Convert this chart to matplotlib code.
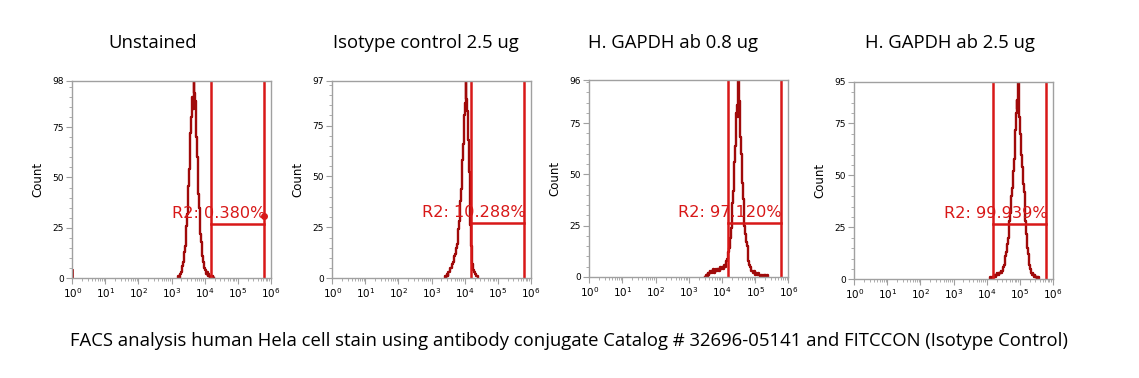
import numpy as np
import matplotlib.pyplot as plt
from matplotlib.ticker import FixedLocator, LogLocator, NullFormatter

# panel titles
titles = ["Unstained", "Isotype control 2.5 ug", "H. GAPDH ab 0.8 ug", "H. GAPDH ab 2.5 ug"]
gate_labels = ["R2: 0.380%", "R2: 10.288%", "R2: 97.120%", "R2: 99.939%"]
y_max = [98, 97, 96, 95]

# gate R2 (log10 of FL1) and height of the marker bar
gate_lo = [4.19, 4.19, 4.17, 4.18]
gate_hi = [5.80, 5.80, 5.77, 5.80]
gate_y = [27, 27, 26.5, 26.5]

# histogram data: first channel (log10), step 0.02 between channels
step = 0.02
unstained_start = 3.20
unstained = [0, 1, 0, 2, 2, 3, 4, 6, 8, 10, 13, 16, 20, 26, 32, 38, 46, 54, 62, 72,
             80, 86, 90, 84, 98, 92, 88, 80, 70, 60, 51, 42, 35, 28, 22, 18, 14, 11, 8, 6,
             5, 4, 3, 2, 3, 1, 2, 1, 0, 1, 1, 0, 0, 1, 0]
unstained_edge = 4  # events piled up in the first channel (10^0)

isotype_start = 3.40
isotype = [0, 1, 0, 1, 2, 1, 3, 3, 4, 5, 5, 6, 7, 8, 10, 11, 12, 14, 15, 17,
           20, 24, 28, 33, 38, 44, 50, 58, 66, 74, 80, 86, 97, 88, 82, 78, 68, 52, 38, 26,
           16, 10, 7, 5, 4, 3, 3, 2, 1, 1, 1, 0]

gapdh08_start = 3.50
gapdh08 = [0, 1, 1, 0, 2, 1, 2, 3, 2, 3, 2, 3, 4, 3, 2, 3, 4, 3, 4, 3,
           4, 3, 4, 5, 4, 4, 5, 4, 5, 6, 5, 6, 8, 9, 10, 12, 14, 16, 19, 24,
           30, 36, 42, 48, 56, 64, 72, 80, 84, 78, 96, 86, 76, 68, 60, 52, 46, 38, 30, 25,
           21, 18, 17, 15, 11, 8, 7, 6, 5, 4, 3, 3, 2, 2, 3, 2, 1, 2, 1, 1,
           2, 1, 1, 0, 1, 1, 0, 1, 0, 1, 0, 1, 0, 0, 1, 0]

gapdh25_start = 4.10
gapdh25 = [0, 1, 0, 1, 0, 1, 2, 1, 2, 1, 2, 3, 2, 3, 2, 3, 3, 4, 3, 4,
           5, 6, 7, 9, 11, 13, 15, 17, 20, 24, 28, 32, 36, 40, 44, 48, 52, 58, 64, 72,
           80, 86, 82, 95, 88, 78, 70, 66, 60, 54, 50, 46, 42, 34, 28, 22, 18, 15, 12, 9,
           7, 5, 4, 3, 2, 3, 2, 1, 2, 1, 1, 0, 1, 0, 1, 0]

starts = [unstained_start, isotype_start, gapdh08_start, gapdh25_start]
series = [unstained, isotype, gapdh08, gapdh25]

# axes boxes in pixels: left, top, right, bottom
boxes = [(72.3, 80.7, 270.7, 278.3), (332.3, 80.7, 530.7, 278.3),
         (589.3, 80.0, 788.3, 277.0), (854.3, 81.7, 1052.7, 279.3)]
title_x = [152.5, 426, 673, 949.5]

W, H = 1139, 378
fig = plt.figure(figsize=(W / 100, H / 100), dpi=100)

hist_col = "#a00a0a"
gate_col = "#d81818"
grey = "#a0a0a0"

for i in range(4):
    l, t, r, b = boxes[i]
    ax = fig.add_axes([l / W, 1 - b / H, (r - l) / W, (b - t) / H])
    counts = np.array(series[i])
    x = 10 ** (starts[i] + step * np.arange(len(counts)))
    ax.plot(x, counts, drawstyle="steps-mid", color=hist_col, lw=1.7)
    if i == 0:
        ax.plot([1.0, 1.0], [0, unstained_edge], color=hist_col, lw=2)

    lo, hi = 10 ** gate_lo[i], 10 ** gate_hi[i]
    ax.axvline(lo, color=gate_col, lw=1.8)
    ax.axvline(hi, color=gate_col, lw=1.8)
    ax.plot([lo, hi], [gate_y[i], gate_y[i]], color=gate_col, lw=1.8)
    ax.text(hi * 1.1, gate_y[i] + 1.5, gate_labels[i], color=gate_col, fontsize=11.6,
            ha="right", va="bottom")
    if i == 0:
        ax.plot([hi], [gate_y[i] + 4], "o", color=gate_col, ms=4)

    ax.set_xscale("log")
    ax.set_xlim(1, 1e6)
    ax.set_ylim(0, y_max[i])
    ax.set_xticks([10 ** k for k in range(7)])
    ax.set_xticklabels([r"$10^{%d}$" % k for k in range(7)], fontsize=7.5)
    ax.xaxis.set_minor_locator(LogLocator(base=10, subs=np.arange(2, 10), numticks=20))
    ax.xaxis.set_minor_formatter(NullFormatter())
    ax.yaxis.set_major_locator(FixedLocator([0, 25, 50, 75, y_max[i]]))
    ax.yaxis.set_minor_locator(FixedLocator(np.arange(0, y_max[i], 5)))
    ax.tick_params(axis="both", which="major", labelsize=6.5, length=4, color=grey, pad=2)
    ax.tick_params(axis="x", which="major", labelsize=7.5)
    ax.tick_params(axis="both", which="minor", length=2, color=grey)
    ax.set_ylabel("Count", fontsize=8.5, labelpad=6)
    for s in ax.spines.values():
        s.set_color(grey)
        s.set_linewidth(1)

    fig.text(title_x[i] / W, 1 - 43 / H, titles[i], fontsize=13.3, family="Open Sans",
             ha="center", va="center")

fig.text(569 / W, 1 - 341 / H,
         "FACS analysis human Hela cell stain using antibody conjugate Catalog # 32696-05141 and FITCCON (Isotype Control)",
         fontsize=13.3, family="Open Sans", ha="center", va="center")

fig.savefig("out.png", dpi=100)
